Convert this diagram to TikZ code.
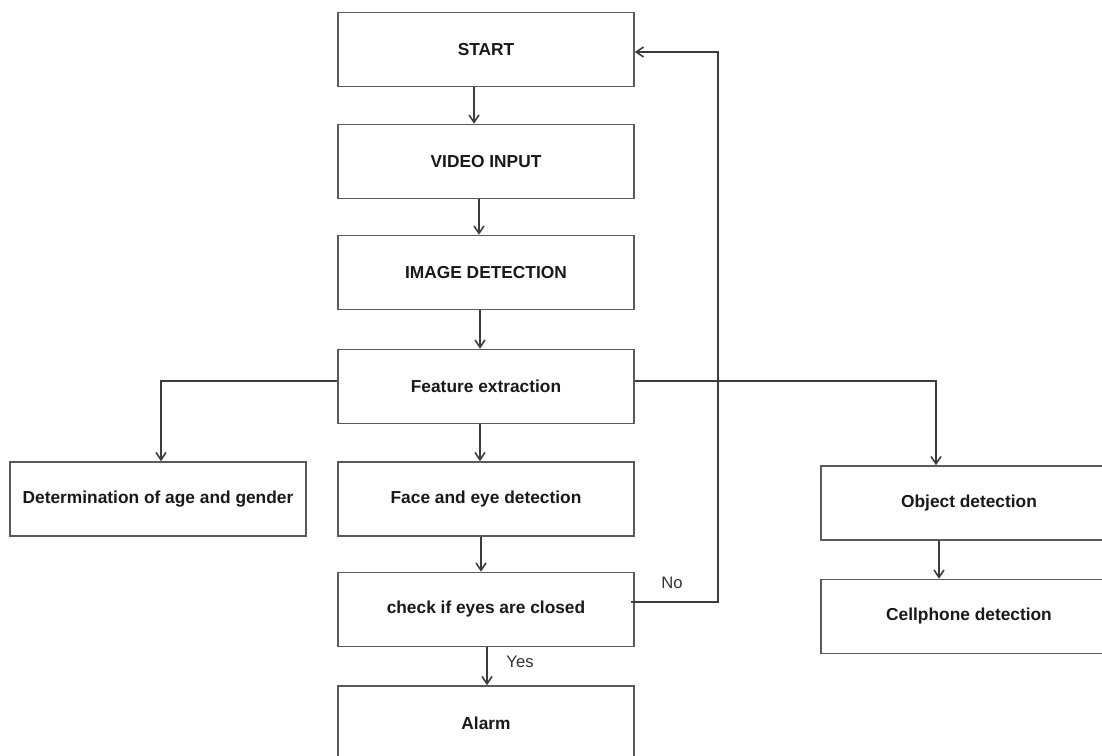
\documentclass[tikz,border=0pt]{standalone}
\usepackage{fontspec}
\setmainfont{Liberation Sans}
\usetikzlibrary{arrows.meta,calc}
\definecolor{boxc}{HTML}{5A5A5A}
\definecolor{linec}{HTML}{3C3C3C}
\begin{document}
\begin{tikzpicture}[x=0.75pt,y=-0.75pt,
  box/.style={draw=boxc,line width=1.2pt,minimum width=222pt,minimum height=55.5pt,inner sep=0pt,font=\bfseries\fontsize{13}{15}\selectfont,text=black!90},
  arr/.style={draw=linec,line width=1.2pt,-{Straight Barb[length=5.5pt,width=7.5pt]}},
  lab/.style={font=\fontsize{12.5}{14}\selectfont,text=black!80}]
\clip (0,0) rectangle (1102,756);
\fill[white] (0,0) rectangle (1102,756);
\node[box] (start) at (486,49.5) {START};
\node[box] (video) at (486,161.5) {VIDEO INPUT};
\node[box] (image) at (486,272.5) {IMAGE DETECTION};
\node[box] (feat) at (486,386.5) {Feature extraction};
\node[box] (det) at (158,499) {Determination of age and gender};
\node[box] (face) at (486,499) {Face and eye detection};
\node[box] (check) at (486,609.5) {check if eyes are closed};
\node[box] (alarm) at (486,723) {Alarm};
\node[box] (obj) at (969,503) {Object detection};
\node[box] (cell) at (969,616.5) {Cellphone detection};
\draw[arr] ($(start.south)+(-12,0)$) -- ($(video.north)+(-12,0)$);
\draw[arr] ($(video.south)+(-7,0)$) -- ($(image.north)+(-7,0)$);
\draw[arr] ($(image.south)+(-6,0)$) -- ($(feat.north)+(-6,0)$);
\draw[arr] ($(feat.south)+(-6,0)$) -- ($(face.north)+(-6,0)$);
\draw[arr] ($(face.south)+(-5,0)$) -- ($(check.north)+(-5,0)$);
\draw[arr] ($(check.south)+(1,0)$) -- ($(alarm.north)+(1,0)$);
\draw[arr] ($(feat.west)+(0,-5.5)$) -| ($(det.north)+(3,0)$);
\draw[arr] ($(feat.east)+(0,-5.5)$) -| ($(obj.north)+(-33,0)$);
\draw[arr] ($(obj.south)+(-30,0)$) -- ($(cell.north)+(-30,0)$);
\draw[arr] ($(check.east)+(-4,-7.5)$) -| ($(start.east)+(83,2.5)$) -- ($(start.east)+(0,2.5)$);
\node[lab] (yes) at (520,662) {Yes};
\node[lab] (no) at (672,583) {No};
\end{tikzpicture}
\end{document}
